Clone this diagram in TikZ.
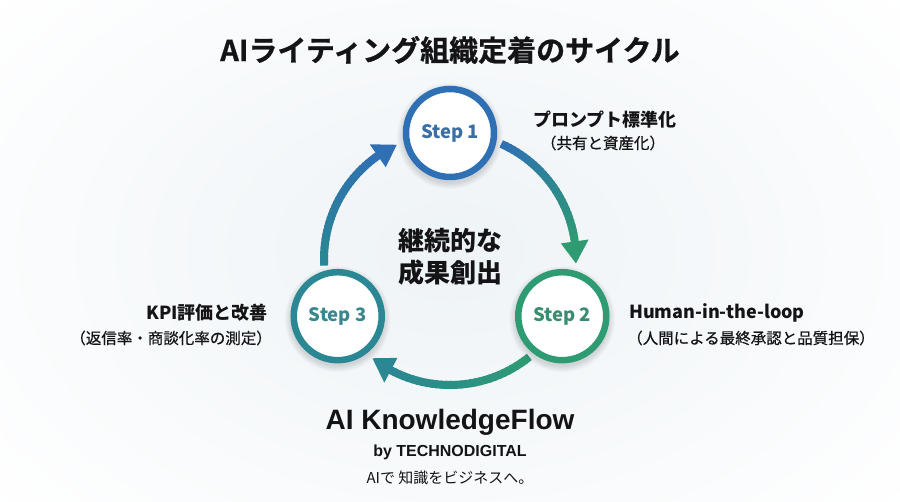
\documentclass[tikz,border=0pt]{standalone}
\usepackage{fontspec}
\setmainfont{Noto Sans CJK JP}
\newfontfamily\jpmed[FakeBold=0.6]{Noto Sans CJK JP}
\newfontfamily\jpheavy[FakeBold=0.8]{Noto Sans CJK JP Bold}
\newfontfamily\latfont{Liberation Sans}
\usetikzlibrary{arrows.meta}
\definecolor{bgc}{RGB}{238,243,246}
\definecolor{cblue}{RGB}{46,112,179}
\definecolor{cgreen}{RGB}{46,155,115}
\definecolor{cteal}{RGB}{42,135,147}
\definecolor{tblue}{RGB}{58,110,165}
\definecolor{tgreen}{RGB}{60,140,112}
\definecolor{tteal}{RGB}{59,135,144}
\definecolor{ink}{RGB}{20,20,22}
\newcommand{\gradarc}[4]{%
  \pgfmathsetmacro\gbase{#2+10}%
  \foreach \i in {0,...,29}{%
    \pgfmathsetmacro\ga{#1+(\gbase-#1)*\i/30}%
    \pgfmathsetmacro\ge{#1+(\gbase-#1)*(\i+1.4)/30}%
    \pgfmathtruncatemacro\gp{100*\i/29}%
    \draw[line width=8pt, color=#4!\gp!#3] ([shift={(\ga:126)}]C) arc[start angle=\ga, end angle=\ge, radius=126];
  }%
  \fill[#4] ([shift={(#2:126)}]C) -- ([shift={(\gbase:140)}]C) -- ([shift={(\gbase:112)}]C) -- cycle;
}
\tikzset{
  stepcirc/.style={circle, fill=white, line width=6.5pt, minimum size=88pt, inner sep=0pt, font=\bfseries\fontsize{18.5}{20}\selectfont},
  headlbl/.style={font=\bfseries\fontsize{18}{21}\selectfont, text=ink, inner sep=0pt},
  sublbl/.style={font=\jpmed\fontsize{15.5}{18}\selectfont, text=ink, inner sep=0pt},
}
\begin{document}
\begin{tikzpicture}[x=1pt,y=1pt]
\useasboundingbox (0,0) rectangle (900,502);
\shade[inner color=bgc, outer color=white] (-150,-150) rectangle (1050,652);
\coordinate (C) at (450,243);
% arcs
\gradarc{66}{-2}{cblue}{cgreen}
\gradarc{-51}{-128}{cgreen}{cteal}
\gradarc{183}{115}{cteal}{cblue}
% shadows
\foreach \ang in {90,-27,207}{
  \foreach \k in {1,...,7}{
    \fill[black, opacity=0.018] ([shift={(\ang:126)}]C) ++(0,-3) circle[radius=46+\k];
  }
}
% step circles
\node[stepcirc, draw=cblue, text=tblue] (s1) at ([shift={(90:126)}]C) {Step 1};
\node[stepcirc, draw=cgreen, text=tgreen] (s2) at ([shift={(-27:126)}]C) {Step 2};
\node[stepcirc, draw=cteal, text=tteal] (s3) at ([shift={(207:126)}]C) {Step 3};
% title
\node[font=\jpheavy\fontsize{29}{32}\selectfont, text=ink] (title) at (450,452) {AIライティング組織定着のサイクル};
% center
\node[font=\bfseries\fontsize{26}{30}\selectfont, text=ink] (c1) at (450,261) {継続的な};
\node[font=\bfseries\fontsize{26}{30}\selectfont, text=ink] (c2) at (450,229) {成果創出};
% labels
\node[headlbl] (l1a) at (605,382) {プロンプト標準化};
\node[sublbl] (l1b) at (603,359) {（共有と資産化）};
\node[headlbl, anchor=west] (l2a) at (629,189) {Human-in-the-loop};
\node[sublbl, anchor=west] (l2b) at (627,164) {（人間による最終承認と品質担保）};
\node[headlbl, anchor=east] (l3a) at (268,189) {KPI評価と改善};
\node[sublbl, anchor=east] (l3b) at (272,164) {（返信率・商談化率の測定）};
% brand
\node[font=\latfont\bfseries\fontsize{28}{32}\selectfont, text=ink] (brand) at (450,80) {AI KnowledgeFlow};
\node[font=\latfont\bfseries\fontsize{16}{19}\selectfont, text=ink] (by) at (450,50) {by TECHNODIGITAL};
\node[font=\fontsize{15}{18}\selectfont, text=ink] (tag) at (450,24) {AIで 知識をビジネスへ。};
\end{tikzpicture}
\end{document}
